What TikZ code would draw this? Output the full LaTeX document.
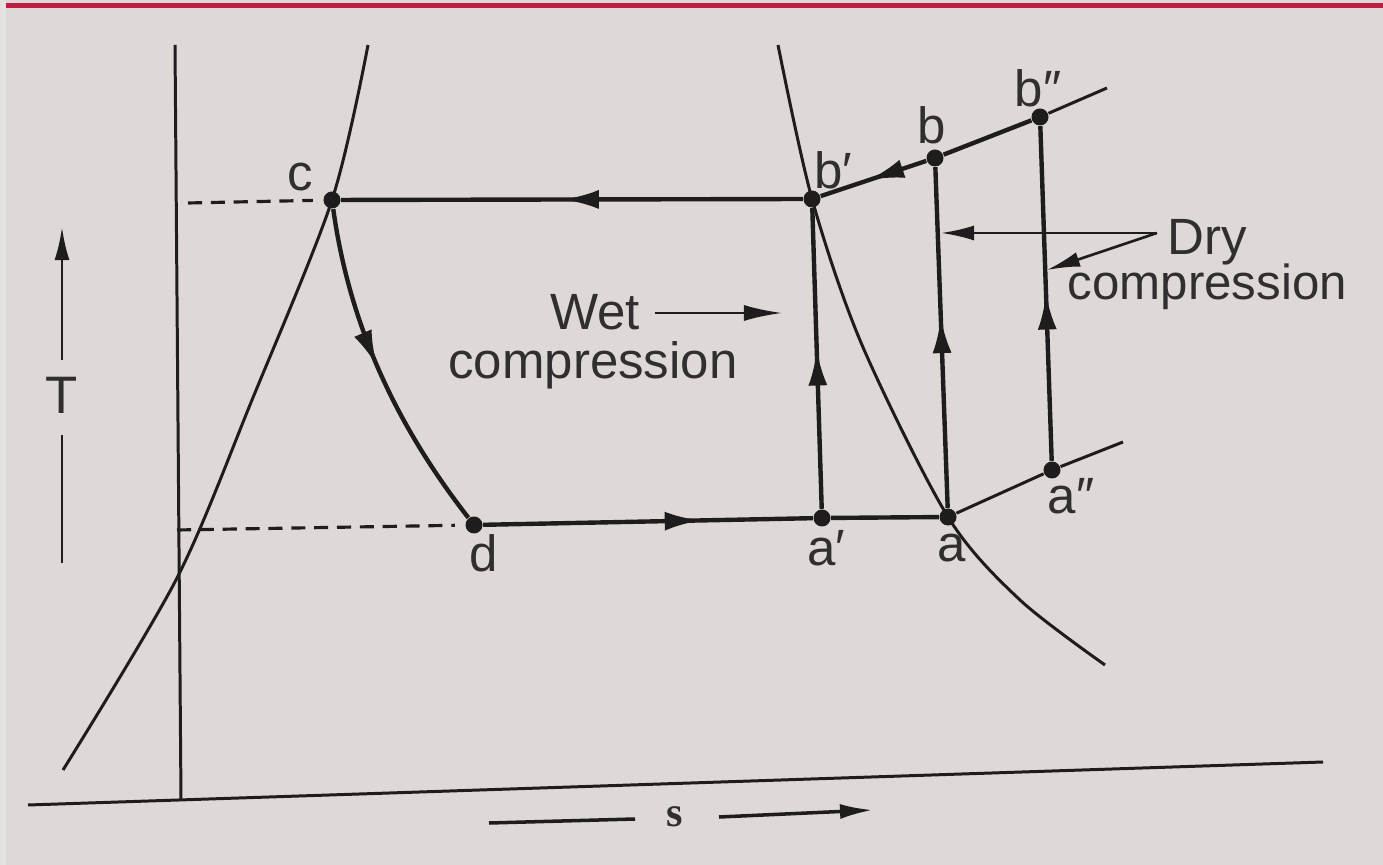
\documentclass[tikz,border=0pt]{standalone}
\usepackage{fontspec}
\setmainfont{Liberation Sans}
\newfontfamily\axisfont{Liberation Serif}
\usetikzlibrary{arrows.meta, decorations.markings}

\definecolor{ink}{RGB}{30,28,28}
\definecolor{paper}{RGB}{222,217,215}
\definecolor{edge}{RGB}{229,227,223}
\definecolor{rulered}{RGB}{190,30,68}

\begin{document}
\begin{tikzpicture}[x=0.01cm, y=-0.01cm,
    dot/.style={circle, fill=ink, inner sep=0pt, minimum size=1.7mm},
    lbl/.style={text=ink!92, font=\fontsize{14.5}{16}\selectfont, inner sep=0pt},
    process/.style={draw=ink, line width=1.25pt},
    satline/.style={draw=ink, line width=0.85pt},
    dashline/.style={draw=ink, line width=0.9pt, dash pattern=on 4pt off 2.5pt},
    leader/.style={draw=ink, line width=0.75pt, -{Latex[length=3.3mm,width=1.5mm]}},
    midarrow/.style={postaction={decorate}, decoration={markings,
        mark=at position #1 with {\arrow{Latex[length=3.6mm,width=1.9mm]}}}}]

    % Background
    \fill[paper] (0,0) rectangle (1383,865);
    \fill[edge] (0,0) rectangle (6,865);
    \fill[rulered] (6,3) rectangle (1383,8);
    \useasboundingbox (0,0) rectangle (1383,865);

    % Axes
    \coordinate (sleft) at (28,805);
    \coordinate (sright) at (1323,762);
    \coordinate (ttop) at (175,45);
    \coordinate (tbottom) at (181,800);
    \draw[satline] (sleft) -- (sright);
    \draw[satline] (ttop) -- (tbottom);

    % Saturation curves
    \draw[satline] plot[smooth] coordinates {(368,45) (332,200) (252,400) (177,578) (63,770)};
    \draw[satline] plot[smooth] coordinates {(778,45) (812,199) (862,345) (948,517) (1020,600) (1105,665)};

    % Draw nodes
    \node[dot] (c) at (332,200) {};
    \node[dot] (bp) at (812,199) {};
    \node[dot] (b) at (935,158) {};
    \node[dot] (bpp) at (1040,117) {};
    \node[dot] (d) at (474,525) {};
    \node[dot] (ap) at (822,518) {};
    \node[dot] (a) at (948,517) {};
    \node[dot] (app) at (1052,470) {};
    \coordinate (bend) at (1107,88);
    \coordinate (aend) at (1123,442);
    \coordinate (cdash) at (188,203);
    \coordinate (ddash) at (177,530);

    % Draw connections
    \draw[process, midarrow=0.52] (bp) -- (c);
    \draw[process, midarrow=0.48] (c) .. controls (350,330) and (400,430) .. (d);
    \draw[process, midarrow=0.66] (d) -- (ap);
    \draw[process] (ap) -- (a);
    \draw[process, midarrow=0.53] (ap) -- (bp);
    \draw[process, midarrow=0.56] (a) -- (b);
    \draw[process, midarrow=0.5] (app) -- (bpp);
    \draw[process, midarrow=0.55] (b) -- (bp);
    \draw[process] (bpp) -- (b);
    \draw[satline] (bpp) -- (bend);
    \draw[satline] (a) -- (app);
    \draw[satline] (app) -- (aend);
    \draw[dashline, shorten >=1mm] (cdash) -- (c);
    \draw[dashline, shorten >=1mm] (ddash) -- (d);

    % Labels
    \node[lbl] (lc) at (300,177) {c};
    \node[lbl] (lbp) at (833,170) {b′};
    \node[lbl] (lb) at (932,125) {b};
    \node[lbl] (lbpp) at (1038,88) {b″};
    \node[lbl] (lap) at (826,548) {a′};
    \node[lbl] (la) at (952,548) {a};
    \node[lbl] (lapp) at (1071,496) {a″};
    \node[lbl] (ld) at (484,553) {d};

    % Wet compression
    \node[lbl] (wet) at (595,312) {Wet};
    \node[lbl] (wetcomp) at (593,365) {compression};
    \coordinate (wettail) at (655,313);
    \coordinate (wettip) at (782,313);
    \draw[leader, -{Latex[length=3.8mm,width=1.6mm]}] (wettail) -- (wettip);

    % Dry compression
    \node[lbl, anchor=west] (dry) at (1167,242) {Dry};
    \node[lbl, anchor=west, font=\fontsize{14}{16}\selectfont] (drycomp) at (1067,287) {compression};
    \coordinate (dryfork) at (1157,233);
    \coordinate (dryab) at (941,233);
    \coordinate (dryapp) at (1047,270);
    \draw[leader] (dryfork) -- (dryab);
    \draw[leader] (dryfork) -- (dryapp);

    % Axis labels
    \node[lbl, font=\fontsize{15}{17}\selectfont] (tlabel) at (62,395) {T};
    \coordinate (tfoot) at (62,360);
    \coordinate (ttip) at (62,227);
    \coordinate (tlinetop) at (62,435);
    \coordinate (tlinebottom) at (62,563);
    \draw[leader, line width=0.85pt] (tfoot) -- (ttip);
    \draw[satline] (tlinetop) -- (tlinebottom);

    \node[lbl, font=\axisfont\bfseries\fontsize{12}{14}\selectfont] (slabel) at (675,817) {s};
    \coordinate (sfoot) at (489,823);
    \coordinate (sstop) at (635,819);
    \coordinate (sstart) at (719,817);
    \coordinate (stip) at (873,810);
    \draw[satline, line width=1pt] (sfoot) -- (sstop);
    \draw[leader, line width=1pt] (sstart) -- (stip);
\end{tikzpicture}
\end{document}
